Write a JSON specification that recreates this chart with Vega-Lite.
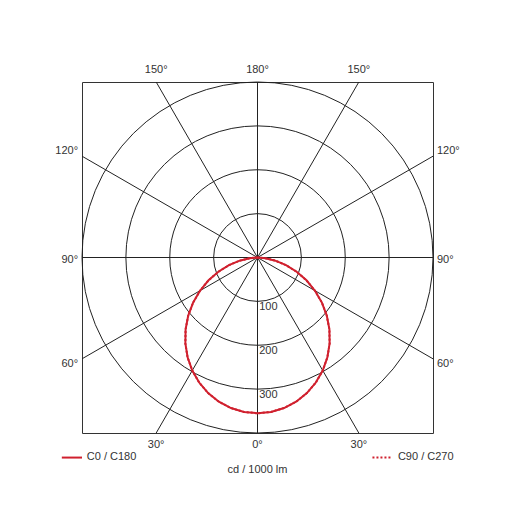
{
  "$schema": "https://vega.github.io/schema/vega-lite/v6.json",
  "width": 351,
  "height": 351,
  "autosize": {"type": "none"},
  "padding": {"left": 82, "top": 82, "right": 82, "bottom": 82},
  "background": "white",
  "config": {
    "view": {"stroke": "#333333", "strokeWidth": 1},
    "text": {"font": "Liberation Sans", "fontSize": 11, "fill": "#333333", "baseline": "middle"}
  },
  "datasets": {
    "rays": [
      {"angle": 0, "x": 0, "y": 0, "x2": 0, "y2": -400},
      {"angle": -30, "x": 0, "y": 0, "x2": -230.94, "y2": -400},
      {"angle": 30, "x": 0, "y": 0, "x2": 230.94, "y2": -400},
      {"angle": -60, "x": 0, "y": 0, "x2": -400, "y2": -230.94},
      {"angle": 60, "x": 0, "y": 0, "x2": 400, "y2": -230.94},
      {"angle": -90, "x": 0, "y": 0, "x2": -400, "y2": 0},
      {"angle": 90, "x": 0, "y": 0, "x2": 400, "y2": 0},
      {"angle": -120, "x": 0, "y": 0, "x2": -400, "y2": 230.94},
      {"angle": 120, "x": 0, "y": 0, "x2": 400, "y2": 230.94},
      {"angle": -150, "x": 0, "y": 0, "x2": -230.94, "y2": 400},
      {"angle": 150, "x": 0, "y": 0, "x2": 230.94, "y2": 400},
      {"angle": 180, "x": 0, "y": 0, "x2": 0, "y2": 400}
    ],
    "rings": [{"r": 100}, {"r": 200}, {"r": 300}, {"r": 400}],
    "curve": [
      {"series": "C90 / C270", "a": -90, "x": 0, "y": 0},
      {"series": "C90 / C270", "a": -85, "x": -17.6, "y": -1.5},
      {"series": "C90 / C270", "a": -80, "x": -40.6, "y": -7.2},
      {"series": "C90 / C270", "a": -75, "x": -65.0, "y": -17.4},
      {"series": "C90 / C270", "a": -70, "x": -89.2, "y": -32.5},
      {"series": "C90 / C270", "a": -65, "x": -111.6, "y": -52.0},
      {"series": "C90 / C270", "a": -60, "x": -131.0, "y": -75.7},
      {"series": "C90 / C270", "a": -55, "x": -146.8, "y": -102.8},
      {"series": "C90 / C270", "a": -50, "x": -157.9, "y": -132.5},
      {"series": "C90 / C270", "a": -45, "x": -163.9, "y": -163.9},
      {"series": "C90 / C270", "a": -40, "x": -164.4, "y": -196.0},
      {"series": "C90 / C270", "a": -35, "x": -159.3, "y": -227.6},
      {"series": "C90 / C270", "a": -30, "x": -148.7, "y": -257.6},
      {"series": "C90 / C270", "a": -25, "x": -132.9, "y": -285.0},
      {"series": "C90 / C270", "a": -20, "x": -112.5, "y": -309.1},
      {"series": "C90 / C270", "a": -15, "x": -88.1, "y": -328.6},
      {"series": "C90 / C270", "a": -10, "x": -60.5, "y": -343.1},
      {"series": "C90 / C270", "a": -5, "x": -30.8, "y": -352.0},
      {"series": "C90 / C270", "a": 0, "x": 0, "y": -355.0},
      {"series": "C90 / C270", "a": 5, "x": 30.8, "y": -352.0},
      {"series": "C90 / C270", "a": 10, "x": 60.5, "y": -343.1},
      {"series": "C90 / C270", "a": 15, "x": 88.1, "y": -328.6},
      {"series": "C90 / C270", "a": 20, "x": 112.5, "y": -309.1},
      {"series": "C90 / C270", "a": 25, "x": 132.9, "y": -285.0},
      {"series": "C90 / C270", "a": 30, "x": 148.7, "y": -257.6},
      {"series": "C90 / C270", "a": 35, "x": 159.3, "y": -227.6},
      {"series": "C90 / C270", "a": 40, "x": 164.4, "y": -196.0},
      {"series": "C90 / C270", "a": 45, "x": 163.9, "y": -163.9},
      {"series": "C90 / C270", "a": 50, "x": 157.9, "y": -132.5},
      {"series": "C90 / C270", "a": 55, "x": 146.8, "y": -102.8},
      {"series": "C90 / C270", "a": 60, "x": 131.0, "y": -75.7},
      {"series": "C90 / C270", "a": 65, "x": 111.6, "y": -52.0},
      {"series": "C90 / C270", "a": 70, "x": 89.2, "y": -32.5},
      {"series": "C90 / C270", "a": 75, "x": 65.0, "y": -17.4},
      {"series": "C90 / C270", "a": 80, "x": 40.6, "y": -7.2},
      {"series": "C90 / C270", "a": 85, "x": 17.6, "y": -1.5},
      {"series": "C90 / C270", "a": 90, "x": 0, "y": 0},
      {"series": "C0 / C180", "a": -90, "x": 0, "y": 0},
      {"series": "C0 / C180", "a": -85, "x": -17.6, "y": -1.5},
      {"series": "C0 / C180", "a": -80, "x": -40.6, "y": -7.2},
      {"series": "C0 / C180", "a": -75, "x": -65.0, "y": -17.4},
      {"series": "C0 / C180", "a": -70, "x": -89.2, "y": -32.5},
      {"series": "C0 / C180", "a": -65, "x": -111.6, "y": -52.0},
      {"series": "C0 / C180", "a": -60, "x": -131.0, "y": -75.7},
      {"series": "C0 / C180", "a": -55, "x": -146.8, "y": -102.8},
      {"series": "C0 / C180", "a": -50, "x": -157.9, "y": -132.5},
      {"series": "C0 / C180", "a": -45, "x": -163.9, "y": -163.9},
      {"series": "C0 / C180", "a": -40, "x": -164.4, "y": -196.0},
      {"series": "C0 / C180", "a": -35, "x": -159.3, "y": -227.6},
      {"series": "C0 / C180", "a": -30, "x": -148.7, "y": -257.6},
      {"series": "C0 / C180", "a": -25, "x": -132.9, "y": -285.0},
      {"series": "C0 / C180", "a": -20, "x": -112.5, "y": -309.1},
      {"series": "C0 / C180", "a": -15, "x": -88.1, "y": -328.6},
      {"series": "C0 / C180", "a": -10, "x": -60.5, "y": -343.1},
      {"series": "C0 / C180", "a": -5, "x": -30.8, "y": -352.0},
      {"series": "C0 / C180", "a": 0, "x": 0, "y": -355.0},
      {"series": "C0 / C180", "a": 5, "x": 30.8, "y": -352.0},
      {"series": "C0 / C180", "a": 10, "x": 60.5, "y": -343.1},
      {"series": "C0 / C180", "a": 15, "x": 88.1, "y": -328.6},
      {"series": "C0 / C180", "a": 20, "x": 112.5, "y": -309.1},
      {"series": "C0 / C180", "a": 25, "x": 132.9, "y": -285.0},
      {"series": "C0 / C180", "a": 30, "x": 148.7, "y": -257.6},
      {"series": "C0 / C180", "a": 35, "x": 159.3, "y": -227.6},
      {"series": "C0 / C180", "a": 40, "x": 164.4, "y": -196.0},
      {"series": "C0 / C180", "a": 45, "x": 163.9, "y": -163.9},
      {"series": "C0 / C180", "a": 50, "x": 157.9, "y": -132.5},
      {"series": "C0 / C180", "a": 55, "x": 146.8, "y": -102.8},
      {"series": "C0 / C180", "a": 60, "x": 131.0, "y": -75.7},
      {"series": "C0 / C180", "a": 65, "x": 111.6, "y": -52.0},
      {"series": "C0 / C180", "a": 70, "x": 89.2, "y": -32.5},
      {"series": "C0 / C180", "a": 75, "x": 65.0, "y": -17.4},
      {"series": "C0 / C180", "a": 80, "x": 40.6, "y": -7.2},
      {"series": "C0 / C180", "a": 85, "x": 17.6, "y": -1.5},
      {"series": "C0 / C180", "a": 90, "x": 0, "y": 0}
    ],
    "labels": [
      {"t": "180°", "side": "c", "x": 0, "y": 427},
      {"t": "150°", "side": "c", "x": -231, "y": 427},
      {"t": "150°", "side": "c", "x": 231, "y": 427},
      {"t": "0°", "side": "c", "x": 0, "y": -427},
      {"t": "30°", "side": "c", "x": -231, "y": -427},
      {"t": "30°", "side": "c", "x": 231, "y": -427},
      {"t": "120°", "side": "l", "x": -409, "y": 243},
      {"t": "90°", "side": "l", "x": -409, "y": -6},
      {"t": "60°", "side": "l", "x": -409, "y": -243},
      {"t": "120°", "side": "r", "x": 409, "y": 243},
      {"t": "90°", "side": "r", "x": 409, "y": -6},
      {"t": "60°", "side": "r", "x": 409, "y": -243},
      {"t": "100", "side": "r", "x": 4, "y": -113},
      {"t": "200", "side": "r", "x": 4, "y": -213},
      {"t": "300", "side": "r", "x": 4, "y": -313},
      {"t": "cd / 1000 lm", "side": "c", "x": 0, "y": -484},
      {"t": "C0 / C180", "side": "r", "x": -389, "y": -455},
      {"t": "C90 / C270", "side": "r", "x": 320, "y": -455}
    ],
    "keys": [
      {"series": "C0 / C180", "x": -446, "x2": -400, "y": -456},
      {"series": "C90 / C270", "x": 262, "x2": 307, "y": -456}
    ]
  },
  "layer": [
    {
      "data": {"name": "rays"},
      "mark": {"type": "rule", "stroke": "#222222", "strokeWidth": 1},
      "encoding": {
        "x": {"field": "x", "type": "quantitative", "scale": {"domain": [-400, 400], "nice": false, "zero": false}, "axis": null},
        "y": {"field": "y", "type": "quantitative", "scale": {"domain": [-400, 400], "nice": false, "zero": false}, "axis": null},
        "x2": {"field": "x2"},
        "y2": {"field": "y2"}
      }
    },
    {
      "data": {"name": "rings"},
      "mark": {"type": "arc", "theta": 0, "theta2": 6.3, "filled": false, "stroke": "#222222", "strokeWidth": 1},
      "encoding": {
        "radius": {"field": "r", "type": "quantitative", "stack": null, "scale": {"type": "linear", "domain": [0, 400], "range": [0, 175.5], "zero": true}}
      }
    },
    {
      "data": {"name": "curve"},
      "transform": [{"filter": "datum.series === 'C90 / C270'"}],
      "mark": {"type": "line", "stroke": "#d0202e", "strokeWidth": 2, "strokeDash": [2, 2]},
      "encoding": {
        "x": {"field": "x", "type": "quantitative", "scale": {"domain": [-400, 400], "nice": false, "zero": false}, "axis": null},
        "y": {"field": "y", "type": "quantitative", "scale": {"domain": [-400, 400], "nice": false, "zero": false}, "axis": null},
        "order": {"field": "a", "type": "quantitative"}
      }
    },
    {
      "data": {"name": "curve"},
      "transform": [{"filter": "datum.series === 'C0 / C180'"}],
      "mark": {"type": "line", "stroke": "#d0202e", "strokeWidth": 2},
      "encoding": {
        "x": {"field": "x", "type": "quantitative", "scale": {"domain": [-400, 400], "nice": false, "zero": false}, "axis": null},
        "y": {"field": "y", "type": "quantitative", "scale": {"domain": [-400, 400], "nice": false, "zero": false}, "axis": null},
        "order": {"field": "a", "type": "quantitative"}
      }
    },
    {
      "data": {"name": "labels"},
      "transform": [{"filter": "datum.side === 'c'"}],
      "mark": {"type": "text", "align": "center"},
      "encoding": {
        "x": {"field": "x", "type": "quantitative", "scale": {"domain": [-400, 400], "nice": false, "zero": false}, "axis": null},
        "y": {"field": "y", "type": "quantitative", "scale": {"domain": [-400, 400], "nice": false, "zero": false}, "axis": null},
        "text": {"field": "t"}
      }
    },
    {
      "data": {"name": "labels"},
      "transform": [{"filter": "datum.side === 'l'"}],
      "mark": {"type": "text", "align": "right"},
      "encoding": {
        "x": {"field": "x", "type": "quantitative", "scale": {"domain": [-400, 400], "nice": false, "zero": false}, "axis": null},
        "y": {"field": "y", "type": "quantitative", "scale": {"domain": [-400, 400], "nice": false, "zero": false}, "axis": null},
        "text": {"field": "t"}
      }
    },
    {
      "data": {"name": "labels"},
      "transform": [{"filter": "datum.side === 'r'"}],
      "mark": {"type": "text", "align": "left"},
      "encoding": {
        "x": {"field": "x", "type": "quantitative", "scale": {"domain": [-400, 400], "nice": false, "zero": false}, "axis": null},
        "y": {"field": "y", "type": "quantitative", "scale": {"domain": [-400, 400], "nice": false, "zero": false}, "axis": null},
        "text": {"field": "t"}
      }
    },
    {
      "data": {"name": "keys"},
      "transform": [{"filter": "datum.series === 'C0 / C180'"}],
      "mark": {"type": "rule", "stroke": "#d0202e", "strokeWidth": 2},
      "encoding": {
        "x": {"field": "x", "type": "quantitative", "scale": {"domain": [-400, 400], "nice": false, "zero": false}, "axis": null},
        "y": {"field": "y", "type": "quantitative", "scale": {"domain": [-400, 400], "nice": false, "zero": false}, "axis": null},
        "x2": {"field": "x2"}
      }
    },
    {
      "data": {"name": "keys"},
      "transform": [{"filter": "datum.series === 'C90 / C270'"}],
      "mark": {"type": "rule", "stroke": "#d0202e", "strokeWidth": 2, "strokeDash": [2, 2]},
      "encoding": {
        "x": {"field": "x", "type": "quantitative", "scale": {"domain": [-400, 400], "nice": false, "zero": false}, "axis": null},
        "y": {"field": "y", "type": "quantitative", "scale": {"domain": [-400, 400], "nice": false, "zero": false}, "axis": null},
        "x2": {"field": "x2"}
      }
    }
  ]
}
